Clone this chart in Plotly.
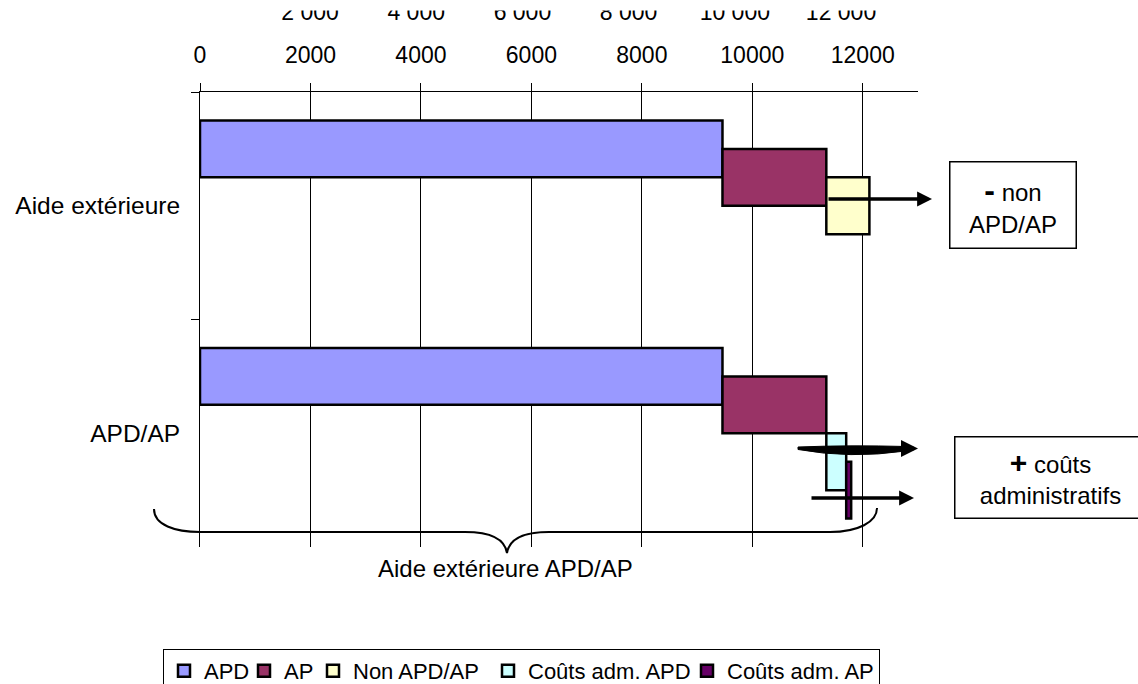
import plotly.graph_objects as go

# ---------------- data ----------------
categories = ["Aide extérieure", "APD/AP"]
series_names = ["APD", "AP", "Non APD/AP", "Coûts adm. APD", "Coûts adm. AP"]
apd = [9460, 9460]
ap = [1880, 1880]
non_apd_ap = [780, None]
couts_adm_apd = [None, 360]
couts_adm_ap = [None, 90]
series_colors = ["#9999FF", "#993366", "#FFFFCC", "#CCFFFF", "#660066"]
x_ticks = [0, 2000, 4000, 6000, 8000, 10000, 12000]
ghost_ticks = [2000, 4000, 6000, 8000, 10000, 12000]
ghost_labels = ["2 000", "4 000", "6 000", "8 000", "10 000", "12 000"]
brace_label = "Aide extérieure APD/AP"
legend_entry_widths = [35, 24, 130, 154, None]


def nz(v):
    return 0 if v is None else v


def cum(*cols):
    return [sum(nz(v) for v in vals) for vals in zip(*cols)]


values = [apd, ap, non_apd_ap, couts_adm_apd, couts_adm_ap]
bases = [
    [0, 0],
    cum(apd),
    cum(apd, ap),
    cum(apd, ap),
    cum(apd, ap, couts_adm_apd),
]

# ---------------- layout geometry ----------------
W, H = 1138, 684
L, R, T, B = 200, 220, 92, 137
PW, PH = W - L - R, H - T - B


def px(x):
    return (x - L) / PW


def py(y):
    return (H - B - y) / PH


FONT = "Arial, Liberation Sans, sans-serif"

fig = go.Figure()

bar_w = 0.25
for i, (name, vals, base, col, lw) in enumerate(
        zip(series_names, values, bases, series_colors, legend_entry_widths)):
    fig.add_trace(go.Bar(
        name=name,
        y=categories,
        x=vals,
        base=base,
        orientation="h",
        width=bar_w,
        offset=-1.5 * bar_w + i * bar_w / 2,
        marker=dict(color=col, line=dict(color="black", width=2.5)),
        legendwidth=lw,
    ))

# empty trace carrying the (clipped) secondary top axis
fig.add_trace(go.Scatter(x=[], y=[], xaxis="x2", yaxis="y", showlegend=False))

# ---------------- decorations ----------------
shapes = []


def P(x, y):
    return f"{px(x):.5f},{py(y):.5f}"


brace = (
    f"M {P(154,509)} C {P(154,525)} {P(175,532)} {P(200,532)} "
    f"L {P(465,532)} C {P(492,532)} {P(505,540)} {P(507,553)} "
    f"C {P(509,540)} {P(522,532)} {P(549,532)} "
    f"L {P(830,532)} C {P(858,532)} {P(877,522)} {P(877,508)}"
)
shapes.append(dict(type="path", xref="paper", yref="paper", path=brace,
                   line=dict(color="black", width=2), layer="above"))

crescent = (
    f"M {P(798,447)} Q {P(850,445)} {P(906,446.5)} "
    f"L {P(906,451)} Q {P(850,459)} {P(798,449.5)} Z"
)
shapes.append(dict(type="path", xref="paper", yref="paper", path=crescent,
                   fillcolor="black", line=dict(color="black", width=1), layer="above"))

# white band hiding the upper part of the secondary top labels (as in the original)
shapes.append(dict(type="rect", xref="paper", yref="paper",
                   x0=px(0), x1=px(W), y0=py(10.5), y1=py(-5),
                   fillcolor="white", line=dict(width=0), layer="above"))

annotations = []


def arrow(x0, x1, y, width=3.5):
    annotations.append(dict(
        xref="paper", yref="paper", x=px(x1), y=py(y), ax=x0 - x1, ay=0,
        showarrow=True, arrowhead=2, arrowsize=0.85, arrowwidth=width,
        arrowcolor="black", text="", standoff=0,
    ))


arrow(827, 932, 199)
arrow(898, 918, 448.5, width=4)
arrow(810, 914, 498)

annotations.append(dict(
    xref="paper", yref="paper", x=px(1012.5), y=py(204.5),
    text="<b><span style='font-size:32px'>-</span></b> non<br>APD/AP",
    showarrow=False, bordercolor="black", borderwidth=1.5, borderpad=0,
    bgcolor="white", width=125, height=85, font=dict(size=24, color="black", family=FONT),
    align="center", valign="middle", xanchor="center", yanchor="middle",
))
annotations.append(dict(
    xref="paper", yref="paper", x=px(1050), y=py(477),
    text="<b><span style='font-size:30px'>+</span></b> coûts<br>administratifs",
    showarrow=False, bordercolor="black", borderwidth=1.5, borderpad=0,
    bgcolor="white", width=190, height=80, font=dict(size=24, color="black", family=FONT),
    align="center", valign="middle", xanchor="center", yanchor="middle",
))
annotations.append(dict(
    xref="paper", yref="paper", x=px(505), y=py(568), text=brace_label,
    showarrow=False, font=dict(size=24, color="black", family=FONT),
    xanchor="center", yanchor="middle",
))

fig.update_layout(
    width=W, height=H,
    margin=dict(l=L, r=R, t=T, b=B, autoexpand=False),
    paper_bgcolor="white", plot_bgcolor="white",
    barmode="overlay",
    font=dict(family=FONT, color="black", size=23),
    xaxis=dict(
        side="top", range=[0, 13000], tickvals=x_ticks, tickformat="d",
        showgrid=True, gridcolor="black", gridwidth=1,
        showline=True, linecolor="black", linewidth=1,
        ticks="outside", ticklen=8, tickcolor="black", tickwidth=1,
        zeroline=False, tickfont=dict(size=23), ticklabelstandoff=11,
        fixedrange=True,
    ),
    xaxis2=dict(
        overlaying="x", side="top", anchor="y", range=[-72, 13450],
        tickvals=ghost_ticks, ticktext=ghost_labels,
        showgrid=False, showline=False, ticks="", zeroline=False,
        tickfont=dict(size=23), ticklabelstandoff=66,
    ),
    yaxis=dict(
        categoryorder="array", categoryarray=categories, autorange="reversed",
        tickson="boundaries", ticks="outside", ticklen=8, tickcolor="black",
        showline=True, linecolor="black", linewidth=1, showgrid=False,
        zeroline=False, tickfont=dict(size=24.5), ticklabelstandoff=14,
    ),
    legend=dict(
        orientation="h", x=px(163), xanchor="left", y=py(649), yanchor="top",
        bordercolor="black", borderwidth=1, bgcolor="white",
        font=dict(size=22, family=FONT), traceorder="normal",
    ),
    shapes=shapes,
    annotations=annotations,
    showlegend=True,
)

fig.write_html("out.html", config={"displayModeBar": False},
               post_script="document.body.style.margin='0px';")
